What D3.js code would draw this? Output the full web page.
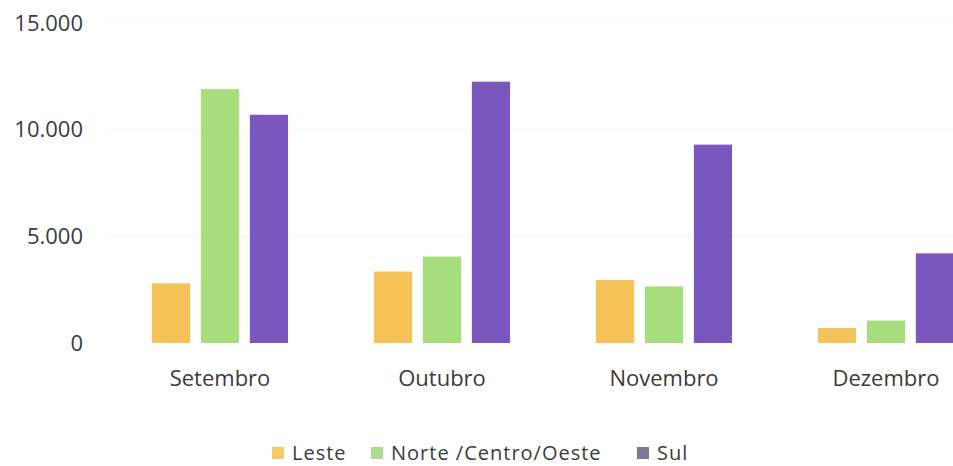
<!DOCTYPE html>
<meta charset="utf-8">
<script src="https://d3js.org/d3.v7.js"></script>
<style>
  body { margin: 0; background: #fff; }
  text { font-family: "Open Sans", sans-serif; fill: #3b3b3b; }
</style>
<div id="my_dataviz"></div>
<script>
// months on the x axis
var months = ["Setembro", "Outubro", "Novembro", "Dezembro"];
var series = ["Leste", "Norte /Centro/Oeste", "Sul"];
// values, one per month
var leste = [2800, 3350, 2950, 700];
var norteCentroOeste = [11900, 4050, 2650, 1050];
var sul = [10700, 12250, 9300, 4200];
var yTicks = [0, 5000, 10000, 15000];

var colours = ["#f6c35b", "#a6de7e", "#7957be"];
var legendColours = ["#f5cb6a", "#aedb92", "#7d7896"];

var width = 953, height = 466;

var data = months.map(function(m, i) {
  return { month: m, values: [leste[i], norteCentroOeste[i], sul[i]] };
});

var svg = d3.select("#my_dataviz").append("svg")
    .attr("width", width)
    .attr("height", height);

var x0 = d3.scaleBand()
    .domain(months)
    .range([109, 997])
    .paddingInner(0.387)
    .paddingOuter(0.1935);

var x1 = d3.scaleBand()
    .domain(series)
    .range([0, x0.bandwidth()])
    .paddingInner(0.22);

var y = d3.scaleLinear()
    .domain([0, 15000])
    .range([343, 23]);

var fmt = function(d) { return d3.format(",")(d).replace(/,/g, "."); };

// faint gridlines
svg.selectAll("grid")
  .data(yTicks.slice(1))
  .enter()
  .append("line")
    .attr("x1", 110)
    .attr("x2", width)
    .attr("y1", function(d) { return y(d); })
    .attr("y2", function(d) { return y(d); })
    .attr("stroke", "#f5f5f5")
    .attr("stroke-width", 1);

var yAxis = d3.axisLeft(y).tickValues(yTicks).tickFormat(fmt).tickSize(0).tickPadding(0);
svg.append("g")
  .attr("transform", "translate(83,0)")
  .call(yAxis)
  .call(function(g) { g.select(".domain").remove(); })
  .selectAll("text")
    .style("font-size", "22px")
    .attr("fill", "#3b3b3b");

var xAxis = d3.axisBottom(x0).tickSize(0).tickPadding(0);
svg.append("g")
  .attr("transform", "translate(0,386)")
  .call(xAxis)
  .call(function(g) { g.select(".domain").remove(); })
  .selectAll("text")
    .style("font-size", "22px")
    .attr("dy", "0")
    .attr("fill", "#3b3b3b");

var groups = svg.selectAll("month_group")
  .data(data)
  .enter()
  .append("g")
    .attr("transform", function(d) { return "translate(" + x0(d.month) + ",0)"; });

groups.selectAll("rect")
  .data(function(d) { return d.values.map(function(v, j) { return { key: series[j], value: v, idx: j }; }); })
  .enter()
  .append("rect")
    .attr("x", function(d) { return x1(d.key); })
    .attr("y", function(d) { return y(d.value); })
    .attr("width", x1.bandwidth())
    .attr("height", function(d) { return y(0) - y(d.value); })
    .attr("fill", function(d) { return colours[d.idx]; });

// legend
var legX = [272, 371, 637];
var legend = svg.selectAll("legend")
  .data(series)
  .enter()
  .append("g")
    .attr("transform", function(d, i) { return "translate(" + legX[i] + ",447)"; });

legend.append("rect")
    .attr("width", 12)
    .attr("height", 12)
    .attr("fill", function(d, i) { return legendColours[i]; });

legend.append("text")
    .attr("x", 20)
    .attr("y", 13)
    .style("font-size", "20px")
    .style("letter-spacing", "1px")
    .text(function(d) { return d; });
</script>
